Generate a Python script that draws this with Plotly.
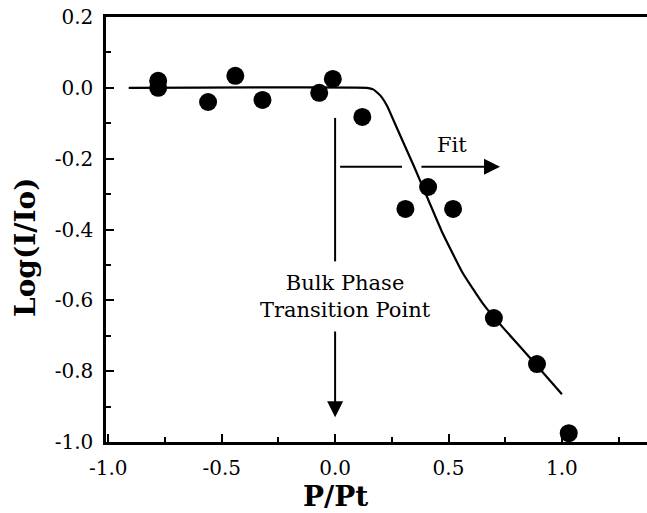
import plotly.graph_objects as go

# Measured points
pt_x = [-0.78, -0.78, -0.56, -0.44, -0.32, -0.07, -0.01, 0.12, 0.31, 0.41, 0.52, 0.70, 0.89, 1.03]
pt_y = [0.02, 0.00, -0.04, 0.034, -0.034, -0.014, 0.025, -0.082, -0.342, -0.28, -0.342, -0.65, -0.78, -0.975]

# Fit curve
fit_x = [-0.91, 0.14, 0.17, 0.20, 0.23, 0.27, 0.35, 0.42, 0.47, 0.52, 0.56, 0.61, 0.65, 0.70, 0.80, 0.89, 1.0]
fit_y = [0.0, 0.0, -0.005, -0.022, -0.052, -0.11, -0.225, -0.33, -0.405, -0.47, -0.52, -0.57, -0.608, -0.648, -0.72, -0.785, -0.865]

x_ticks = [-1.0, -0.5, 0.0, 0.5, 1.0]
x_ticktext = ["-1.0", "-0.5", "0.0", "0.5", "1.0"]
y_ticks = [0.2, 0.0, -0.2, -0.4, -0.6, -0.8, -1.0]
y_ticktext = ["0.2", "0.0", "-0.2", "-0.4", "-0.6", "-0.8", "-1.0"]

FONT = "DejaVu Serif"

fig = go.Figure()
fig.add_trace(go.Scatter(x=fit_x, y=fit_y, mode="lines",
                         line=dict(color="black", width=2.2, shape="spline", smoothing=0.3),
                         showlegend=False, hoverinfo="skip"))
fig.add_trace(go.Scatter(x=pt_x, y=pt_y, mode="markers",
                         marker=dict(color="black", size=18, symbol="circle"),
                         showlegend=False))

# vertical arrow (upper segment + arrow)
fig.add_shape(type="line", x0=0.0, x1=0.0, y0=-0.085, y1=-0.49, xref="x", yref="y",
              line=dict(color="black", width=2))
fig.add_annotation(x=0.0, y=-0.93, ax=0.0, ay=-0.684, xref="x", yref="y", axref="x", ayref="y",
                   text="", showarrow=True, arrowhead=2, arrowsize=1.6, arrowwidth=2, arrowcolor="black")
fig.add_annotation(x=0.048, y=-0.588, xref="x", yref="y", text="Bulk Phase<br>Transition Point",
                   showarrow=False, font=dict(family=FONT, size=21, color="black"), align="center")

# horizontal Fit arrow
fig.add_shape(type="line", x0=0.022, x1=0.295, y0=-0.223, y1=-0.223, xref="x", yref="y",
              line=dict(color="black", width=2))
fig.add_annotation(x=0.727, y=-0.223, ax=0.374, ay=-0.223, xref="x", yref="y", axref="x", ayref="y",
                   text="", showarrow=True, arrowhead=2, arrowsize=1.6, arrowwidth=2, arrowcolor="black")
fig.add_annotation(x=0.515, y=-0.161, xref="x", yref="y", text="Fit", showarrow=False,
                   font=dict(family=FONT, size=21, color="black"))

# axis titles
fig.add_annotation(x=-0.15, y=-0.45, xref="paper", yref="y", xanchor="center", yanchor="middle",
                   text="<b>Log(I/Io)</b>", textangle=-90,
                   showarrow=False, font=dict(family=FONT, size=28, color="black"))
fig.add_annotation(x=0.0, y=-0.129, xref="x", yref="paper", xanchor="center", yanchor="middle",
                   text="<b>P/Pt</b>",
                   showarrow=False, font=dict(family=FONT, size=28, color="black"))

fig.update_layout(
    width=647, height=513,
    margin=dict(l=106, r=0, t=17, b=71),
    plot_bgcolor="white", paper_bgcolor="white",
    font=dict(family=FONT, size=20, color="black"),
    xaxis=dict(range=[-1.01, 1.375], tickvals=x_ticks, ticktext=x_ticktext,
               showgrid=False, zeroline=False, showline=True, linecolor="black", linewidth=2.5,
               mirror=True, ticks="inside", ticklen=8, tickwidth=2, tickcolor="black",
               ticklabelstandoff=6,
               minor=dict(dtick=0.25, tick0=0, ticks="inside", ticklen=5, tickwidth=1.5, tickcolor="black")),
    yaxis=dict(range=[-1.0, 0.2], tickvals=y_ticks, ticktext=y_ticktext,
               showgrid=False, zeroline=False, showline=True, linecolor="black", linewidth=2.5,
               mirror=False, ticks="inside", ticklen=8, tickwidth=2, tickcolor="black",
               ticklabelstandoff=6,
               minor=dict(dtick=0.1, tick0=0, ticks="inside", ticklen=5, tickwidth=1.5, tickcolor="black")),
)

fig.write_html("out.html")
